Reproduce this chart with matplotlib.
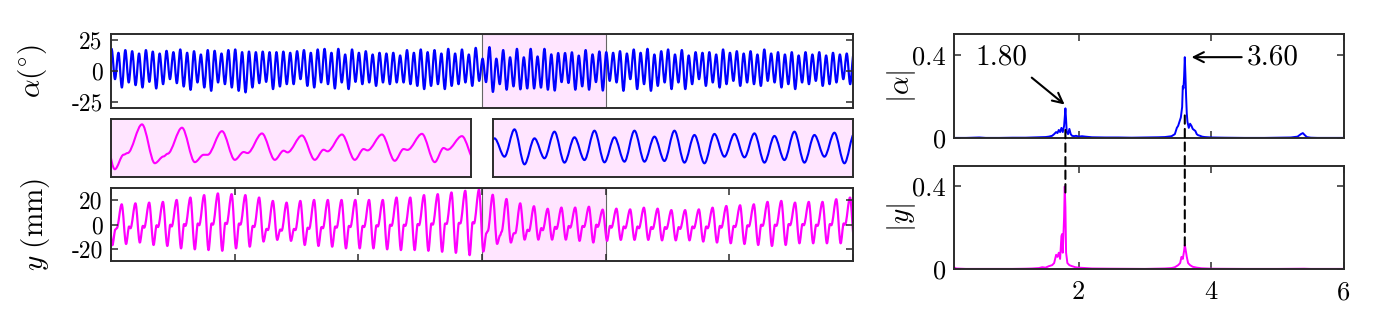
import numpy as np
import matplotlib.pyplot as plt
from matplotlib.patches import ConnectionPatch, PathPatch
from matplotlib.path import Path

plt.rcParams['font.family'] = 'serif'
plt.rcParams['font.serif'] = ['cmr10']
plt.rcParams['mathtext.fontset'] = 'cm'
plt.rcParams['axes.unicode_minus'] = False

# record length, zoom window (s) and the two main frequencies (Hz)
t_end = 30.0
t_zoom = [15.0, 20.0]
f_alpha = 3.6
f_y = 1.8

# alpha(t): peak and trough of every cycle (deg)
alpha_peak = [18.1, 14.9, 17.1, 16.2, 14.3, 17.1, 15.9, 14.3, 16.5, 15.4, 17.6, 14.9, 16.2, 13.5,
              17.1, 16.5, 14.3, 17.1, 17.6, 15.4, 15.9, 15.4, 15.9, 15.4, 15.4, 15.9, 14.9,
              16.2, 17.1, 14.9, 17.6, 18.1, 14.9, 18.1, 13.5, 17.6, 14.9, 16.2, 13.5, 14.9, 14.3,
              14.9, 12.7, 17.1, 14.9, 17.6, 15.4, 17.1, 14.3, 18.1, 14.3, 17.6, 13.5, 18.9,
              10.1, 19.5, 10.1, 17.1, 11.2, 18.1, 11.2, 18.1, 11.9, 18.1, 13.6, 14.7, 14.7, 15.3,
              12.6, 17.1, 13.6, 16.0,
              15.4, 14.9, 16.2, 14.3, 17.6, 14.9, 18.1, 13.5, 16.2,
              17.6, 13.5, 17.1, 12.7, 15.4, 14.9, 15.4, 13.5, 17.6, 14.9, 16.2, 14.3, 16.2, 13.5,
              17.6, 14.3, 15.4, 13.5, 15.4, 12.7, 15.4, 13.5, 15.4, 12.7, 14.9, 13.5, 14.3, 14.0]
alpha_trough = [-6.7, -13.5, -9.4, -11.6, -13.5, -8.9, -14.3, -10.8, -6.7, -10.0, -12.7, -15.4, -9.4,
                -13.5, -16.2, -9.4, -10.8, -13.5, -16.2, -17.5, -13.5, -10.0, -8.9, -14.8, -12.7,
                -10.8, -10.8,
                -6.7, -12.2, -13.5, -9.4, -10.8, -14.3, -9.4, -14.8, -8.9, -10.8, -9.4, -12.2, -9.4,
                -10.8, -9.4, -9.4, -10.8, -12.2, -14.8, -12.2, -10.8, -14.8, -12.2, -10.8, -9.4,
                -12.2, -8.1,
                -9.1, -17.1, -10.8, -15.3, -12.6, -15.0, -14.3, -14.3, -13.6, -15.3, -16.0, -9.1,
                -9.8, -15.3, -12.6, -15.3, -9.1, -16.0,
                -8.1, -9.4, -16.2, -6.7, -14.8, -10.8, -16.2, -12.2, -9.4,
                -14.8, -9.4, -14.8, -10.8, -6.7, -12.2, -9.4, -13.5, -10.8, -8.1, -12.2, -9.4, -10.8,
                -12.2, -8.1, -9.4, -13.5, -10.8, -14.8, -9.4, -10.8, -8.1, -12.2, -10.8, -9.4, -6.7,
                -10.8, -10.0]

# y(t): peak, trough and the two shoulder points of every cycle (mm)
y_peak = [16.0, 16.8, 17.6, 18.2, 18.8, 20.4, 22.4, 24.4, 25.8, 25.2, 24.4, 22.4, 19.6, 18.2, 19.6,
          20.4, 20.4, 20.4, 20.4, 20.4, 20.4, 22.4, 22.4, 24.4, 25.2, 26.6, 28.0, 29.0,
          24.7, 21.2, 17.6, 15.2, 13.1, 14.1, 14.1, 14.8, 12.4,
          13.2, 12.6, 14.0, 13.2, 12.0, 12.0, 12.6, 14.0, 15.4, 16.0, 16.8, 18.8, 19.6, 18.2,
          18.8, 18.8, 21.0, 22.4]
y_trough = [-17.0, -16.0, -14.8, -16.8, -17.6, -19.6, -20.4, -21.0, -21.6, -19.6, -18.2, -14.0,
            -12.6, -13.4, -16.8, -17.6, -18.2, -19.6, -19.6, -19.6, -20.4, -21.0, -21.0, -21.6,
            -22.4, -23.3, -25.2, -22.2,
            -15.9, -14.8, -12.4, -12.4, -12.4, -12.4, -13.4, -14.8, -13.4,
            -12.6, -12.6, -12.6, -13.0, -13.0, -13.0, -14.0, -14.8, -15.4, -16.0, -16.8, -17.6,
            -16.8, -15.4, -15.4, -15.4, -15.4, -15.0]
y_sh1 = [-4.0, -1.5, -1.0, -0.5, 0.0, 0.5, 1.0, 1.0, 1.5, 1.0, -1.0, -3.5, -4.0, -3.5, -2.5,
         -2.0, -1.5, -1.0, -1.0, -0.5, 0.0, 0.0, 0.5, 1.0, 1.0, 1.5, 2.0, -7.0,
         -8.8, -7.1, -4.2, -2.8, -1.8, -1.1, -1.1, 0.0, -1.0,
         -1.5, -1.5, -2.0, -2.0, -2.0, -1.5, -1.5, -1.0, -1.0, -0.5, 0.0, 0.0, 0.5, 0.5,
         0.0, 0.5, 1.0, 0.0]
y_sh2 = [-3.0, -3.0, -2.5, -2.0, -1.5, -1.0, -0.5, 0.0, 0.5, 0.0, -2.0, -4.5, -5.0, -4.5, -3.5,
         -3.0, -2.5, -2.0, -2.0, -1.5, -1.0, -1.0, -0.5, 0.0, 0.5, 1.0, 1.0, -5.3,
         -6.0, -7.1, -5.3, -4.6, -3.5, -2.5, -2.0, -1.8, -2.5,
         -3.0, -3.0, -3.5, -3.5, -3.5, -3.0, -3.0, -2.5, -2.0, -1.5, -1.0, -1.0, -0.5, -0.5,
         -1.0, -0.5, 0.0, -1.0]

# amplitude spectra
freq_a = [0.12, 0.3, 0.5, 0.6, 0.8, 1.0, 1.2, 1.3, 1.4, 1.5, 1.55, 1.6, 1.63, 1.66, 1.68, 1.70,
          1.72, 1.74, 1.76, 1.78, 1.79, 1.80, 1.81, 1.82, 1.84, 1.86, 1.88, 1.90, 1.93, 1.96, 2.0,
          2.05, 2.1, 2.2, 2.4, 2.6, 2.8, 3.0, 3.2, 3.3, 3.4, 3.45, 3.48, 3.50, 3.52, 3.54, 3.56,
          3.57, 3.58, 3.59, 3.60, 3.61, 3.62, 3.63, 3.64, 3.66, 3.68, 3.70, 3.72, 3.74, 3.76,
          3.78, 3.80, 3.83, 3.86, 3.9, 3.95, 4.0, 4.2, 4.5, 4.8, 5.0, 5.2, 5.3, 5.35, 5.38, 5.41,
          5.44, 5.5, 5.6, 5.8, 6.0]
amp_a = [0.002, 0.002, 0.004, 0.002, 0.002, 0.003, 0.003, 0.004, 0.005, 0.006, 0.008, 0.012, 0.02,
         0.03, 0.025, 0.04, 0.03, 0.05, 0.03, 0.06, 0.10, 0.144, 0.09, 0.03, 0.02, 0.045, 0.02,
         0.012, 0.01, 0.012, 0.008, 0.01, 0.008, 0.005, 0.004, 0.004, 0.003, 0.004, 0.005, 0.006,
         0.01, 0.02, 0.05, 0.06, 0.08, 0.10, 0.15, 0.25, 0.24, 0.30, 0.39, 0.30, 0.20, 0.12, 0.08,
         0.05, 0.07, 0.06, 0.045, 0.04, 0.035, 0.02, 0.015, 0.012, 0.008, 0.006, 0.005, 0.004,
         0.003, 0.002, 0.002, 0.003, 0.004, 0.008, 0.02, 0.025, 0.015, 0.006, 0.003, 0.002, 0.002,
         0.002]
freq_y = [0.12, 0.15, 0.3, 0.5, 0.8, 1.0, 1.2, 1.3, 1.4, 1.45, 1.5, 1.55, 1.6, 1.63, 1.66, 1.68,
          1.70, 1.72, 1.74, 1.75, 1.76, 1.78, 1.79, 1.80, 1.81, 1.83, 1.86, 1.9, 1.95, 2.0, 2.1,
          2.2, 2.5, 3.0, 3.3, 3.4, 3.45, 3.5, 3.53, 3.55, 3.57, 3.59, 3.6, 3.61, 3.63, 3.65, 3.68,
          3.72, 3.78, 3.85, 4.0, 4.5, 5.0, 5.4, 5.5, 6.0]
amp_y = [0.01, 0.004, 0.002, 0.002, 0.002, 0.002, 0.003, 0.004, 0.006, 0.01, 0.008, 0.015, 0.02,
         0.03, 0.07, 0.06, 0.08, 0.05, 0.16, 0.17, 0.08, 0.25, 0.40, 0.30, 0.08, 0.03, 0.02, 0.015,
         0.01, 0.008, 0.006, 0.004, 0.003, 0.002, 0.004, 0.006, 0.01, 0.02, 0.03, 0.06, 0.05,
         0.09, 0.118, 0.10, 0.06, 0.03, 0.02, 0.012, 0.008, 0.005, 0.003, 0.002, 0.002, 0.003,
         0.002, 0.002]

peak_labels = ['1.80', '3.60']
peak_freqs = [1.80, 3.60]

alpha_ticks, alpha_ticklabels = [-25, 0, 25], ['-25', '0', '25']
y_ticks, y_ticklabels = [-20, 0, 20], ['-20', '0', '20']
f_ticks, f_ticklabels = [2, 4, 6], ['2', '4', '6']
amp_ticks, amp_ticklabels = [0, 0.4], ['0', '0.4']

# ---- build the time series (extrema in time order) ----
ta = 0.02 + np.arange(len(alpha_peak)) / f_alpha
t_alpha = np.column_stack([ta, ta + 0.5 / f_alpha]).ravel()
alpha = np.column_stack([alpha_peak, alpha_trough]).ravel()

phase = np.array([0.0, 0.32, 0.54, 0.64])
ty = 0.43 + (np.arange(len(y_peak)) - 1) / f_y
t_y = (ty[:, None] + phase[None, :] / f_y).ravel()
y = np.column_stack([y_peak, y_trough, y_sh1, y_sh2]).ravel()

BLUE = '#0000ff'
MAG = '#ff00ff'
PINK = '#ffe5ff'
FRAME = '#2b2b2b'

fig = plt.figure(figsize=(13.78, 3.10), dpi=100)


def smooth_line(ax, t, v, **kw):
    # curve through the extrema, flat tangent at each of them (bezier path)
    verts = [(t[0], v[0])]
    codes = [Path.MOVETO]
    for i in range(len(t) - 1):
        dt = t[i + 1] - t[i]
        verts += [(t[i] + dt / 3, v[i]), (t[i + 1] - dt / 3, v[i + 1]), (t[i + 1], v[i + 1])]
        codes += [Path.CURVE4] * 3
    ax.add_patch(PathPatch(Path(verts, codes), facecolor='none', capstyle='round',
                           joinstyle='round', **kw))


def style(ax, lw=1.4, size=17):
    for s in ax.spines.values():
        s.set_color(FRAME)
        s.set_linewidth(lw)
    ax.tick_params(direction='in', color=FRAME, width=1.1, length=5,
                   top=True, right=True, labelsize=size, pad=6)


# top left: alpha
ax_a = fig.add_axes([0.0806, 0.6526, 0.5385, 0.2368])
ax_a.axvspan(t_zoom[0], t_zoom[1], facecolor=PINK, edgecolor='#666666', lw=0.8, zorder=0)
smooth_line(ax_a, t_alpha, alpha, edgecolor=BLUE, lw=1.6)
ax_a.set_xlim(0, t_end)
ax_a.set_ylim(-30, 30)
ax_a.set_xticks([])
ax_a.set_yticks(alpha_ticks, alpha_ticklabels)
style(ax_a)
ax_a.set_ylabel(r'$\alpha(^{\circ})$', fontsize=21)
ax_a.yaxis.set_label_coords(-0.084, 0.5)

# zoomed windows
ax_zy = fig.add_axes([0.0806, 0.43, 0.2612, 0.1852])
ax_zy.set_facecolor(PINK)
smooth_line(ax_zy, t_y, y, edgecolor=MAG, lw=1.5)
ax_zy.set_xlim(t_zoom)
ax_zy.set_ylim(-30, 30)
ax_zy.set_xticks([])
ax_zy.set_yticks([])
style(ax_zy)

ax_za = fig.add_axes([0.3578, 0.43, 0.2612, 0.1852])
ax_za.set_facecolor(PINK)
smooth_line(ax_za, t_alpha, alpha, edgecolor=BLUE, lw=1.5)
ax_za.set_xlim(t_zoom)
ax_za.set_ylim(-30, 30)
ax_za.set_xticks([])
ax_za.set_yticks([])
style(ax_za)

# bottom left: y
ax_y = fig.add_axes([0.0806, 0.1581, 0.5385, 0.2345])
ax_y.axvspan(t_zoom[0], t_zoom[1], facecolor=PINK, edgecolor='#666666', lw=0.8, zorder=0)
smooth_line(ax_y, t_y, y, edgecolor=MAG, lw=1.6)
ax_y.set_xlim(0, t_end)
ax_y.set_ylim(-30, 30)
ax_y.set_xticks(np.arange(0, t_end + 1, 5), [])
ax_y.set_yticks(y_ticks, y_ticklabels)
style(ax_y)
ax_y.set_ylabel(r'$y\ (\mathrm{mm})$', fontsize=21)
ax_y.yaxis.set_label_coords(-0.080, 0.5)

# right: spectra
ax_fa = fig.add_axes([0.6923, 0.5539, 0.2830, 0.3355])
ax_fa.plot(freq_a, amp_a, color=BLUE, lw=1.4)
ax_fy = fig.add_axes([0.6923, 0.1313, 0.2830, 0.3342])
ax_fy.plot(freq_y, amp_y, color=MAG, lw=1.4)
for ax in (ax_fa, ax_fy):
    ax.set_xlim(0.12, 6)
    ax.set_ylim(0, 0.5)
    ax.set_yticks(amp_ticks, amp_ticklabels)
    style(ax, size=19)
ax_fa.set_xticks(f_ticks, [])
ax_fy.set_xticks(f_ticks, f_ticklabels)
ax_fy.tick_params(axis='x', pad=8)
ax_fa.set_ylabel(r'$|\alpha|$', fontsize=21)
ax_fy.set_ylabel(r'$|y|$', fontsize=21)
ax_fa.yaxis.set_label_coords(-0.092, 0.5)
ax_fy.yaxis.set_label_coords(-0.092, 0.5)

# dashed guides linking the peaks of both spectra
for fp, ya, yb in zip(peak_freqs, [0.04, 0.11], [0.36, 0.115]):
    con = ConnectionPatch((fp, ya), (fp, yb), coordsA=ax_fa.transData, coordsB=ax_fy.transData,
                          color='k', lw=1.5, linestyle=(0, (4, 2.5)), zorder=5)
    fig.add_artist(con)

# peak annotations
amp_a_arr = np.array(amp_a)
freq_a_arr = np.array(freq_a)
tip1 = (peak_freqs[0] + 0.02, amp_a_arr[np.argmin(abs(freq_a_arr - peak_freqs[0]))] + 0.01)
tip2 = (peak_freqs[1] + 0.06, amp_a_arr[np.argmin(abs(freq_a_arr - peak_freqs[1]))])
ax_fa.annotate('', xy=tip1, xytext=(1.26, 0.30),
               arrowprops=dict(arrowstyle='->', color='k', lw=1.5, mutation_scale=18))
ax_fa.text(0.84, 0.39, peak_labels[0], fontsize=21, ha='center', va='center')
ax_fa.annotate('', xy=tip2, xytext=(4.5, 0.39),
               arrowprops=dict(arrowstyle='->', color='k', lw=1.5, mutation_scale=18))
ax_fa.text(4.93, 0.39, peak_labels[1], fontsize=21, ha='center', va='center')

fig.savefig('out.png', dpi=100)
